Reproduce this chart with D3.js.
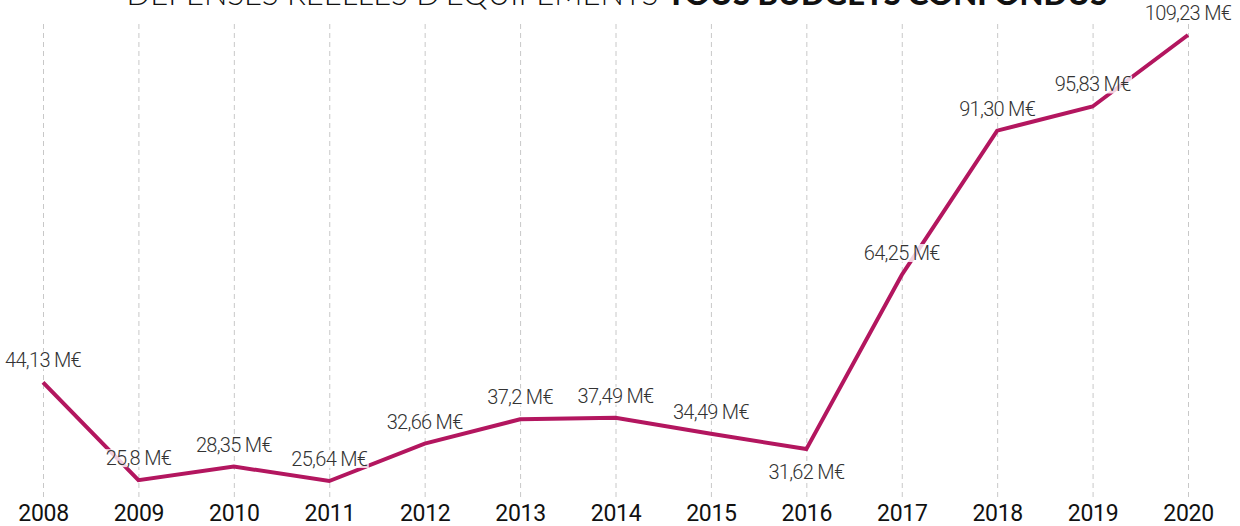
<!DOCTYPE html>
<html lang="fr">
<head>
<meta charset="utf-8">
<script src="https://cdn.jsdelivr.net/npm/d3@7"></script>
<style>
  html, body { margin: 0; padding: 0; background: #fff; }
  svg { display: block; }
</style>
</head>
<body>
<svg id="chart" width="1240" height="526"></svg>
<script>
// Dépenses réelles d'équipement, tous budgets confondus (millions d'euros)
const years = ["2008", "2009", "2010", "2011", "2012", "2013", "2014",
               "2015", "2016", "2017", "2018", "2019", "2020"];
const values = [44.13, 25.8, 28.35, 25.64, 32.66, 37.2, 37.49,
                34.49, 31.62, 64.25, 91.30, 95.83, 109.23];
const valueLabels = ["44,13 M€", "25,8 M€", "28,35 M€", "25,64 M€", "32,66 M€",
                     "37,2 M€", "37,49 M€", "34,49 M€", "31,62 M€", "64,25 M€",
                     "91,30 M€", "95,83 M€", "109,23 M€"];
const labelSide = ["above", "above", "above", "above", "above", "above", "above",
                   "above", "below", "above", "above", "above", "above"];
const titleLight = "DÉPENSES RÉELLES D'ÉQUIPEMENTS ";
const titleBold = "TOUS BUDGETS CONFONDUS";

const W = 1240, H = 526;
const svg = d3.select("#chart");

const x = d3.scalePoint().domain(years).range([43, 1188]);
const y = d3.scaleLinear()
  .domain([d3.min(values), d3.max(values)])
  .range([481, 35]);

// Vertical dashed grid, one line per year
const xAxisGrid = d3.axisBottom(x).tickSize(-(497 - 20)).tickFormat("");
svg.append("g")
  .attr("transform", "translate(0,497)")
  .call(xAxisGrid)
  .call(g => g.select(".domain").remove())
  .call(g => g.selectAll(".tick line")
    .attr("stroke", "#c8c8c8")
    .attr("stroke-width", 1)
    .attr("stroke-dasharray", "5,4"));

// Year labels
const xAxis = d3.axisBottom(x).tickSize(0).tickPadding(0);
svg.append("g")
  .attr("transform", "translate(0,521)")
  .call(xAxis)
  .call(g => g.select(".domain").remove())
  .call(g => g.selectAll(".tick text")
    .attr("dy", 0)
    .attr("y", 0)
    .attr("fill", "#111")
    .attr("font-family", "Roboto, sans-serif")
    .attr("font-size", 23)
    .attr("letter-spacing", -0.3));

// Series line
const line = d3.line()
  .x((d, i) => x(years[i]))
  .y(d => y(d));

svg.append("path")
  .datum(values)
  .attr("fill", "none")
  .attr("stroke", "#b3165f")
  .attr("stroke-width", 4)
  .attr("stroke-linejoin", "miter")
  .attr("d", line);

// Value labels with a translucent white backing
const labels = svg.append("g")
  .selectAll("g")
  .data(values)
  .join("g")
  .attr("transform", (d, i) => {
    const ty = labelSide[i] === "below" ? y(d) + 30 : y(d) - 15;
    return `translate(${x(years[i])},${ty})`;
  });

labels.append("text")
  .attr("text-anchor", "middle")
  .attr("fill", "#333")
  .attr("font-family", "Roboto, sans-serif")
  .attr("font-weight", 300)
  .attr("font-size", 20)
  .attr("letter-spacing", -0.7)
  .text((d, i) => valueLabels[i]);

labels.each(function () {
  const g = d3.select(this);
  const bb = g.select("text").node().getBBox();
  g.insert("rect", "text")
    .attr("x", bb.x - 1)
    .attr("y", bb.y + 3)
    .attr("width", bb.width + 2)
    .attr("height", bb.height - 6)
    .attr("fill", "#fff")
    .attr("fill-opacity", 0.8);
});

// Title, running off the top edge
const title = svg.append("text")
  .attr("x", W / 2 - 3)
  .attr("y", 5)
  .attr("text-anchor", "middle")
  .attr("font-family", "Lato, sans-serif")
  .attr("font-size", 31)
  .attr("fill", "#111");
title.append("tspan").attr("font-weight", 300).text(titleLight);
title.append("tspan").attr("font-weight", 900).text(titleBold);
</script>
</body>
</html>
